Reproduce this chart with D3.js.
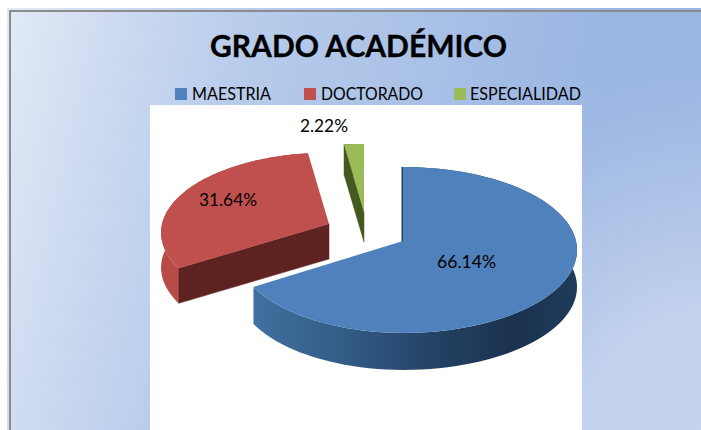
<!DOCTYPE html>
<html><head><meta charset="utf-8">
<script src="https://d3js.org/d3.v7.min.js"></script>
<style>html,body{margin:0;padding:0;background:#fff;overflow:hidden}svg{display:block}text{font-family:Lato,"Open Sans",sans-serif;fill:#000}</style>
</head><body><svg id="c" width="701" height="430"></svg>
<script>
const categories = ["MAESTRIA","DOCTORADO","ESPECIALIDAD"];
const values = [66.14,31.64,2.22];
const valueLabels = ["66.14%","31.64%","2.22%"];
const chartTitle = "GRADO ACADÉMICO";

const topColors = ["#4f81bd","#c0504d","#9bbb59"];
const cutColors = ["#24405f","#5e2320","#45591f"];
const wallFills = ["url(#wallBlue)","#b84b47","#45591f"];
const apexX = [403,329,364], apexY = [241,224,212], depths = [37,35,30], scales = [1,.965,.92], leftScales = [.96,1,1];
const legendSwatchX = [175,304,454], legendTextX = [192,321,470], legendTextW = [79,102,111];
const labelX = [466.5,228,324], labelY = [268,206,132], labelW = [59,58,48];

const svg = d3.select("#c");
const defs = svg.append("defs");
function grad(id,tag,attrs,stops){
  const g = defs.append(tag).attr("id",id).attr("gradientUnits","userSpaceOnUse");
  Object.entries(attrs).forEach(([k,v])=>g.attr(k,v));
  stops.forEach(s=>g.append("stop").attr("offset",s[0]).attr("stop-color",s[1]).attr("stop-opacity",s[2]===undefined?1:s[2]));
}
grad("bg","linearGradient",{x1:10,y1:0,x2:595,y2:132},[[0,"#e2eaf6"],[.17,"#cfdbf1"],[.38,"#b9cdeb"],[1,"#9ab5e2"]]);
grad("glow","radialGradient",{cx:720,cy:450,r:400},[[0,"#c5d3ed",1],[.35,"#c3d2ed",1],[1,"#b5c9e9",0]]);
grad("wallBlue","linearGradient",{x1:253,y1:0,x2:576,y2:0},[[0,"#42709f"],[.3,"#325a85"],[.6,"#223f60"],[.8,"#1b3250"],[1,"#1f3a59"]]);

svg.append("rect").attr("x",7).attr("y",8).attr("width",694).attr("height",422).attr("fill","url(#bg)");
svg.append("rect").attr("x",7).attr("y",8).attr("width",694).attr("height",422).attr("fill","url(#glow)");
svg.append("rect").attr("x",9).attr("y",10).attr("width",692).attr("height",2).attr("fill","#8c8c8c");
svg.append("rect").attr("x",9).attr("y",10).attr("width",2).attr("height",420).attr("fill","#8c8c8c");
svg.append("rect").attr("x",150).attr("y",105).attr("width",432).attr("height",325).attr("fill","#fff");

svg.append("text").text(chartTitle).attr("x",210).attr("y",57)
  .attr("font-size",30).attr("font-weight",700).attr("stroke","#000").attr("stroke-width",.35)
  .attr("textLength",297).attr("lengthAdjust","spacingAndGlyphs");

categories.forEach((c,i)=>{
  svg.append("rect").attr("x",legendSwatchX[i]).attr("y",88).attr("width",12).attr("height",12).attr("fill",topColors[i]);
  svg.append("text").text(c).attr("x",legendTextX[i]).attr("y",100).attr("font-size",16.5)
    .attr("textLength",legendTextW[i]).attr("lengthAdjust","spacingAndGlyphs");
});

const rx = 173, ry = 82, k = .108;
const pie = d3.pie().sort(null)(values);
const proj = (a,i,d=0)=>{
  const u=Math.sin(a), v=-Math.cos(a), w=1-k*v, s=scales[i]*(u<0?leftScales[i]:1);
  return [apexX[i]+rx*s*u/w, apexY[i]+ry*scales[i]*v/w+d];
};
const line = d3.line();
const arcPts = (p,i,d=0)=>d3.range(0,1.0001,1/90).map(t=>proj(p.startAngle+(p.endAngle-p.startAngle)*t,i,d));

pie.forEach((p,i)=>{
  const g = svg.append("g");
  const top = arcPts(p,i), bottom = arcPts(p,i,depths[i]).reverse();
  g.append("path").attr("d",line(top.concat(bottom))+"Z").attr("fill",wallFills[i]);
  const s0 = proj(p.startAngle,i);
  g.append("path").attr("d",line([s0,[apexX[i],apexY[i]],[apexX[i],apexY[i]+depths[i]],[s0[0],s0[1]+depths[i]]])+"Z")
    .attr("fill",cutColors[i]).attr("stroke",cutColors[i]).attr("stroke-width",i===0?3:.5);
  g.append("path").attr("d",line([[apexX[i],apexY[i]]].concat(top))+"Z").attr("fill",topColors[i]);
});

valueLabels.forEach((t,i)=>{
  svg.append("text").text(t).attr("x",labelX[i]).attr("y",labelY[i]).attr("text-anchor","middle").attr("font-size",16.5)
    .attr("textLength",labelW[i]).attr("lengthAdjust","spacingAndGlyphs");
});
</script></body></html>
